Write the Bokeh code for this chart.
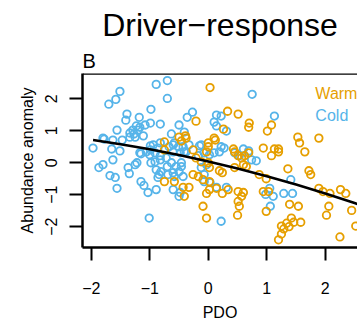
from bokeh.plotting import figure
from bokeh.models import Range1d, FixedTicker, Span, Title
from bokeh.embed import file_html
from bokeh.resources import INLINE
from bokeh.core.properties import value

FONT = "Liberation Sans"
WARM = "#E69F00"
COLD = "#56B4E9"

ticks = [-2, -1, 0, 1, 2]
tick_labels = ["\u22122", "\u22121", "0", "1", "2"]
regimes = ["Warm", "Cold"]

cold_pdo = [-0.89, -0.70, -0.70, -1.51, -1.58, -1.70, -0.98, -1.39, -1.41, -1.18,
            -0.99, -0.82, -0.50, -0.36, -0.27, -1.08, -1.23, -1.56, -1.29, -1.34,
            -0.63, -1.80, -1.11, -0.41, 0.75, 0.14, 0.22, 0.10, 0.14, 0.31,
            1.13, -1.20, -1.17, -1.27, -1.97, -1.78, -1.63, -1.47, -1.65, -1.51,
            -1.34, -1.25, -1.17, -1.06, -0.99, -0.94, -0.82, -0.86, -0.91, -0.60,
            -0.51, -0.60, -0.48, -0.99, -0.67, -0.58, -0.38, -0.17, -1.15, -1.00,
            -0.82, -0.12, 0.22, 0.27, 0.60, 0.69, -0.43, -0.33, -0.41, -0.15,
            0.02, -0.07, 0.10, 0.19, 0.45, 0.53, 0.74, 0.82, -1.63, -1.87,
            -1.80, -1.68, -1.59, -1.56, -1.37, -1.35, -1.25, -1.22, -1.15, -1.10,
            -0.89, -1.03, -1.01, -0.98, -0.91, -0.82, -0.72, -0.63, -0.55, -0.46,
            -0.89, -0.81, -0.69, -0.60, -0.86, -0.84, -0.60, -0.48, -0.50, -0.46,
            -0.43, -0.12, -0.03, -0.07, -0.07, 0.03, 0.14, 0.31, -0.50, 0.22,
            0.98, 1.05, 1.11, 1.29, 1.44, 1.41, 1.06, -0.58, -0.70]
cold_abund = [2.45, 2.57, 2.01, 2.23, 1.98, 1.83, 1.67, 1.52, 1.33, 1.42,
              1.24, 1.21, 1.18, 1.42, 1.58, 1.18, 1.15, 1.02, 1.02, 0.93,
              0.90, 0.77, 0.84, 0.96, 2.14, 1.49, 1.46, 1.27, 1.15, 0.99,
              1.46, 1.02, 1.11, 0.90, 0.46, 0.74, 0.71, 0.71, 0.43, 0.37,
              0.80, 0.80, 0.31, 0.34, 0.40, 0.56, 0.62, 0.46, 0.31, 0.56,
              0.50, 0.34, 0.31, 0.53, 0.50, 0.62, 0.34, 0.22, 0.28, 0.25,
              0.22, 0.56, 0.50, 0.46, 0.43, 0.37, 0.50, 0.56, 0.34, 0.53,
              0.25, 0.31, 0.31, 0.34, 0.31, 0.22, 0.09, 0.06, 0.09, -0.15,
              -0.06, -0.40, -0.46, -0.80, -0.15, -0.34, -0.06, 0.00, -0.59, -0.71,
              -0.84, -0.93, -1.73, 0.00, 0.03, 0.09, 0.15, 0.00, -0.12, 0.00,
              -0.22, -0.28, -0.37, -0.31, -0.46, -0.37, -0.84, -0.93, -0.28, -0.12,
              -0.43, -0.15, -0.06, -0.37, -0.59, -0.62, -0.77, -0.77, -1.05, -1.83,
              -0.99, -0.80, -1.05, -0.96, -0.96, -0.53, -1.36, -0.43, -0.12]

warm_pdo = [0.03, 0.33, 0.51, -0.21, -0.39, -0.75, 0.26, 0.70, 0.69, 1.08,
            1.01, 1.53, 1.56, 1.89, 1.65, 0.94, 1.13, 1.20, 1.08, 0.12,
            0.00, 0.43, 0.45, -0.03, -0.75, 0.00, -0.26, -0.50, 0.51, 0.57,
            -0.21, -0.12, 0.00, 0.02, -0.26, -0.17, -0.09, 0.02, 0.19, 0.60,
            0.65, 0.45, 0.24, 0.87, 0.99, 1.36, 1.72, 1.75, -0.43, -0.33,
            0.02, 0.34, -0.03, 0.51, 0.60, 0.57, 1.03, 0.14, 0.24, 0.51,
            0.53, 0.94, 1.89, 1.96, 2.08, 2.26, 2.35, 1.39, 1.54, 0.99,
            2.06, 2.02, 2.45, -0.09, -0.03, 0.50, 1.25, 1.34, 1.38, 1.42,
            1.46, 1.58, 1.29, 1.25, 1.20, 2.25, 2.52, -0.75, -0.58, -0.41,
            1.20, 0.69, 0.62, -0.46, -0.38, 0.10]
warm_abund = [2.35, 1.61, 1.52, 1.30, 0.84, 0.65, 1.05, 1.24, 1.11, 1.18,
              0.99, 0.80, 0.62, 0.77, 0.34, 0.46, 0.43, 0.43, 0.22, 0.71,
              0.62, 0.43, 0.34, 0.34, 0.40, 0.50, 0.40, 0.80, 0.22, 0.15,
              0.15, 0.03, 0.00, -0.15, -0.37, -0.43, -0.53, -0.59, -0.25, -0.06,
              -0.12, -0.15, -0.31, -0.37, -0.50, -0.19, -0.25, -0.37, -0.77, -0.77,
              -0.84, -0.84, -0.96, -0.90, -0.93, -1.05, -0.90, -0.80, -0.96, -1.21,
              -1.36, -0.90, -0.80, -0.90, -0.96, -0.84, -0.96, -1.30, -1.36, -1.52,
              -1.36, -1.64, -1.49, -1.36, -1.73, -1.64, -1.98, -1.89, -2.00, -1.73,
              -1.86, -1.86, -2.07, -2.23, -2.41, -2.32, -1.98, -0.59, -0.59, -1.05,
              0.34, 0.31, 0.22, 0.68, 0.77, 0.77]

fit_pdo = [-1.97, -1.5, -1.0, -0.5, 0.0, 0.5, 1.0, 1.5, 2.0, 2.5, 2.8]
fit_abund = [0.71, 0.58, 0.42, 0.24, 0.04, -0.18, -0.42, -0.68, -0.96, -1.26, -1.45]

p = figure(width=357, height=325, output_backend="svg", toolbar_location=None,
           x_range=Range1d(-2.15, 2.55), y_range=Range1d(-2.65, 2.79),
           min_border_left=82, min_border_right=0, min_border_top=73,
           min_border_bottom=78)
p.outline_line_color = None
p.grid.visible = False
p.background_fill_color = "white"
p.border_fill_color = "white"

for ax in (p.xaxis[0], p.yaxis[0]):
    ax.ticker = FixedTicker(ticks=ticks)
    ax.major_label_overrides = {t: s for t, s in zip(ticks, tick_labels)}
    ax.minor_tick_line_color = None
    ax.major_tick_in = 0
    ax.major_tick_out = 13
    ax.major_tick_line_width = 2
    ax.axis_line_width = 2.5
    ax.axis_line_color = "black"
    ax.major_tick_line_color = "black"
    ax.major_label_text_font = FONT
    ax.major_label_text_font_size = "16px"
    ax.major_label_text_color = "black"
    ax.axis_label_text_font = FONT
    ax.axis_label_text_font_size = "16px"
    ax.axis_label_text_font_style = "normal"
    ax.axis_label_text_color = "black"

p.xaxis.axis_label = "PDO"
p.xaxis.major_label_standoff = 21
p.xaxis.axis_label_standoff = 7
p.yaxis.axis_label = "Abundance anomaly"
p.yaxis.major_label_orientation = "parallel"
p.yaxis.major_label_standoff = 12
p.yaxis.axis_label_standoff = 7

p.add_layout(Span(location=2.79, dimension="width", line_color="black", line_width=2.5))

p.scatter(cold_pdo, cold_abund, size=7.5, fill_color=None, line_color=COLD, line_width=1.8)
p.scatter(warm_pdo, warm_abund, size=7.5, fill_color=None, line_color=WARM, line_width=1.8)
p.line(fit_pdo, fit_abund, line_color="black", line_width=2.5)

p.text(x=[1.83, 1.83], y=[2.15, 1.48], text=regimes, text_color=[WARM, COLD],
       text_font=value(FONT), text_font_size="16px", text_baseline="middle",
       text_align="left")

p.add_layout(Title(text="B", align="left", text_font=FONT, text_font_size="20px",
                   text_font_style="normal", text_color="black", standoff=4), "above")
p.add_layout(Title(text="Driver\u2212response", align="center", offset=5,
                   text_font=FONT, text_font_size="32px", text_font_style="normal",
                   text_color="black", standoff=6), "above")

open("out.html", "w").write(file_html(p, INLINE))
